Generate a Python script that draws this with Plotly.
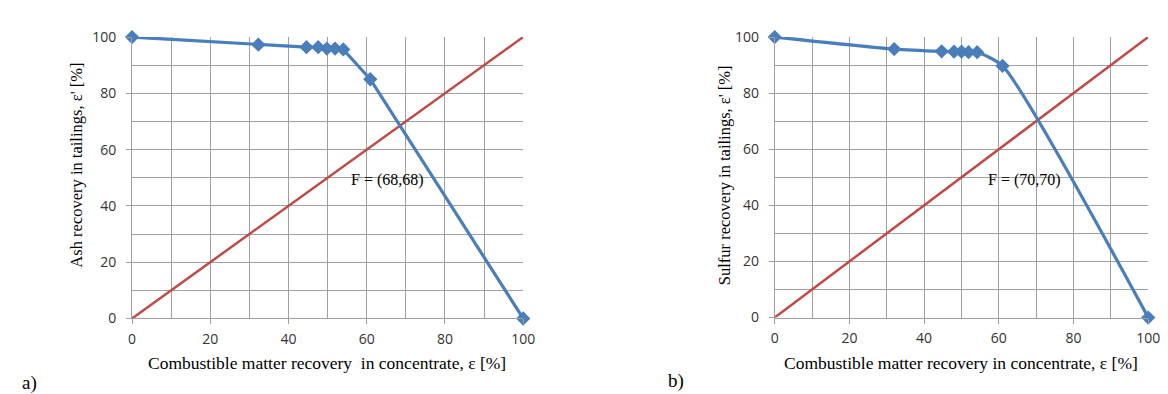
import plotly.graph_objects as go

# ---- data ----
ash_x = [0, 32.3, 44.6, 47.6, 49.8, 51.9, 54.0, 60.9, 100]
ash_y = [100, 97.3, 96.4, 96.4, 95.9, 95.9, 95.6, 85.0, 0]
sul_x = [0, 32.0, 44.7, 48.0, 50.0, 51.9, 54.2, 61.0, 100]
sul_y = [100, 95.7, 94.9, 94.8, 94.8, 94.6, 94.6, 89.7, 0]
diag_x = [0, 100]
diag_y = [0, 100]
tick_vals = [0, 20, 40, 60, 80, 100]
ash_point = "F = (68,68)"
sul_point = "F = (70,70)"

W, H = 1168, 394
BLUE = "#4a7ebb"
RED = "#be4b48"
GRID = "#a0a0a0"
TICKFONT = dict(family="Open Sans", size=14, color="#333333")
SERIF = "Liberation Serif"


def px_x(p):
    return p / W


def px_y(p):
    return 1 - p / H


fig = go.Figure()

# left panel
fig.add_trace(go.Scatter(x=diag_x, y=diag_y, mode="lines", line=dict(color=RED, width=2.5),
                         xaxis="x", yaxis="y", cliponaxis=False, showlegend=False))
fig.add_trace(go.Scatter(x=ash_x, y=ash_y, mode="lines+markers", line=dict(color=BLUE, width=3.2),
                         marker=dict(symbol="diamond", size=11, color=BLUE),
                         xaxis="x", yaxis="y", cliponaxis=False, showlegend=False))
# right panel
fig.add_trace(go.Scatter(x=diag_x, y=diag_y, mode="lines", line=dict(color=RED, width=2.5),
                         xaxis="x2", yaxis="y2", cliponaxis=False, showlegend=False))
fig.add_trace(go.Scatter(x=sul_x, y=sul_y, mode="lines+markers",
                         line=dict(color=BLUE, width=3.2, shape="spline", smoothing=0.6),
                         marker=dict(symbol="diamond", size=11, color=BLUE),
                         xaxis="x2", yaxis="y2", cliponaxis=False, showlegend=False))

axis_common = dict(range=[0, 100], tickvals=tick_vals, showgrid=True, gridcolor=GRID, gridwidth=1,
                   showline=True, linecolor=GRID, linewidth=1, zeroline=False,
                   ticks="outside", ticklen=5, tickcolor=GRID, tickfont=TICKFONT,
                   minor=dict(dtick=10, tick0=0, showgrid=True, gridcolor=GRID, gridwidth=1, ticks=""),
                   fixedrange=True)

fig.update_layout(
    width=W, height=H, margin=dict(l=0, r=0, t=0, b=0),
    paper_bgcolor="white", plot_bgcolor="white",
    xaxis=dict(domain=[px_x(121.7), px_x(518.3)], anchor="y", ticklabelstandoff=3, **axis_common),
    yaxis=dict(domain=[px_y(315.7), px_y(20)], anchor="x", ticklabelstandoff=7, **axis_common),
    xaxis2=dict(domain=[px_x(773.3), px_x(1152)], anchor="y2", ticklabelstandoff=3, **axis_common),
    yaxis2=dict(domain=[px_y(314.7), px_y(20)], anchor="x2", ticklabelstandoff=7, **axis_common),
)

ann = []
ann.append(dict(text="Combustible matter recovery  in concentrate, ε [%]", x=px_x(319), y=px_y(362),
                xref="paper", yref="paper", showarrow=False, xanchor="center", yanchor="middle",
                font=dict(family=SERIF, size=17.5, color="black")))
ann.append(dict(text="Combustible matter recovery in concentrate, ε [%]", x=px_x(962.5), y=px_y(362),
                xref="paper", yref="paper", showarrow=False, xanchor="center", yanchor="middle",
                font=dict(family=SERIF, size=17.5, color="black")))
ann.append(dict(text="Ash recovery in tailings, ε' [%]", x=px_x(65), y=px_y(155), textangle=-90,
                xref="paper", yref="paper", showarrow=False, xanchor="center", yanchor="middle",
                font=dict(family=SERIF, size=16.5, color="black")))
ann.append(dict(text="Sulfur recovery in tailings, ε' [%]", x=px_x(722), y=px_y(165), textangle=-90,
                xref="paper", yref="paper", showarrow=False, xanchor="center", yanchor="middle",
                font=dict(family=SERIF, size=16.5, color="black")))
ann.append(dict(text=ash_point, x=55.5, y=49.3, xref="x", yref="y", showarrow=False,
                xanchor="left", yanchor="middle", font=dict(family=SERIF, size=16, color="black")))
ann.append(dict(text=sul_point, x=56.7, y=49.0, xref="x2", yref="y2", showarrow=False,
                xanchor="left", yanchor="middle", font=dict(family=SERIF, size=16, color="black")))
ann.append(dict(text="a)", x=px_x(8), y=px_y(383), xref="paper", yref="paper", showarrow=False,
                xanchor="left", yanchor="middle", font=dict(family=SERIF, size=19, color="black")))
ann.append(dict(text="b)", x=px_x(663), y=px_y(381), xref="paper", yref="paper", showarrow=False,
                xanchor="left", yanchor="middle", font=dict(family=SERIF, size=19, color="black")))
fig.update_layout(annotations=ann)

fig.write_html("out.html")
